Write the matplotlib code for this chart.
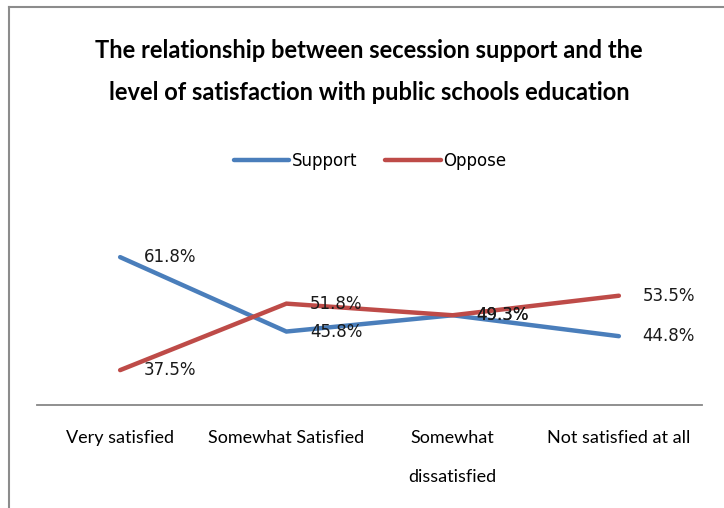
import matplotlib.pyplot as plt
from matplotlib.lines import Line2D

categories = ["Very satisfied", "Somewhat Satisfied", "Somewhat\ndissatisfied", "Not satisfied at all"]
support = [61.8, 45.8, 49.3, 44.8]
oppose = [37.5, 51.8, 49.3, 53.5]

blue = "#4A7EBB"
red = "#BE4B48"
narrow = ["Lato", "DejaVu Sans"]

fig = plt.figure(figsize=(7.24, 5.08), dpi=100)
W, H = 724, 508
ax = fig.add_axes([37 / W, 103 / H, 665 / W, 186 / H])

x = list(range(len(categories)))
ax.plot(x, support, color=blue, lw=3.2, solid_capstyle="round", solid_joinstyle="miter", label="Support")
ax.plot(x, oppose, color=red, lw=3.2, solid_capstyle="round", solid_joinstyle="miter", label="Oppose")

for xi, v in zip(x, support):
    ax.annotate(f"{v:.1f}%", (xi, v), xytext=(17, 0), textcoords="offset points",
                va="center", ha="left", fontsize=12, color="#1a1a1a")
for xi, v in zip(x, oppose):
    ax.annotate(f"{v:.1f}%", (xi, v), xytext=(17, 0), textcoords="offset points",
                va="center", ha="left", fontsize=12, color="#1a1a1a")

ax.set_xlim(-0.5, 3.5)
ax.set_ylim(30, 70)
ax.set_yticks([])
ax.set_xticks(x)
ax.set_xticklabels(categories, family=narrow, fontsize=13, linespacing=2.75, va="top")
ax.tick_params(axis="x", length=0, pad=18)
for s in ["top", "right", "left"]:
    ax.spines[s].set_visible(False)
ax.spines["bottom"].set_color("#878787")
ax.spines["bottom"].set_linewidth(1.3)
ax.set_facecolor("none")

fig.text(369 / W, 1 - 50 / H, "The relationship between secession support and the",
         ha="center", va="center", fontsize=17, fontweight="bold", family=narrow)
fig.text(369 / W, 1 - 93 / H, "level of satisfaction with public schools education",
         ha="center", va="center", fontsize=17, fontweight="bold", family=narrow)

handles = [Line2D([], [], color=blue, lw=3.2, solid_capstyle="round"),
           Line2D([], [], color=red, lw=3.2, solid_capstyle="round")]
fig.legend(handles, ["Support", "Oppose"], loc="center", bbox_to_anchor=(370 / W, 1 - 161 / H),
           ncol=2, frameon=False, fontsize=12, handlelength=3.35, handletextpad=0.15,
           columnspacing=1.65)

# chart border
fig.add_artist(Line2D([8.5 / W, 8.5 / W], [0, 1 - 7 / H], color="#8c8c8c", lw=1.5))
fig.add_artist(Line2D([8.5 / W, 1], [1 - 7 / H, 1 - 7 / H], color="#8c8c8c", lw=1.5))

fig.savefig("out.png", dpi=100)
